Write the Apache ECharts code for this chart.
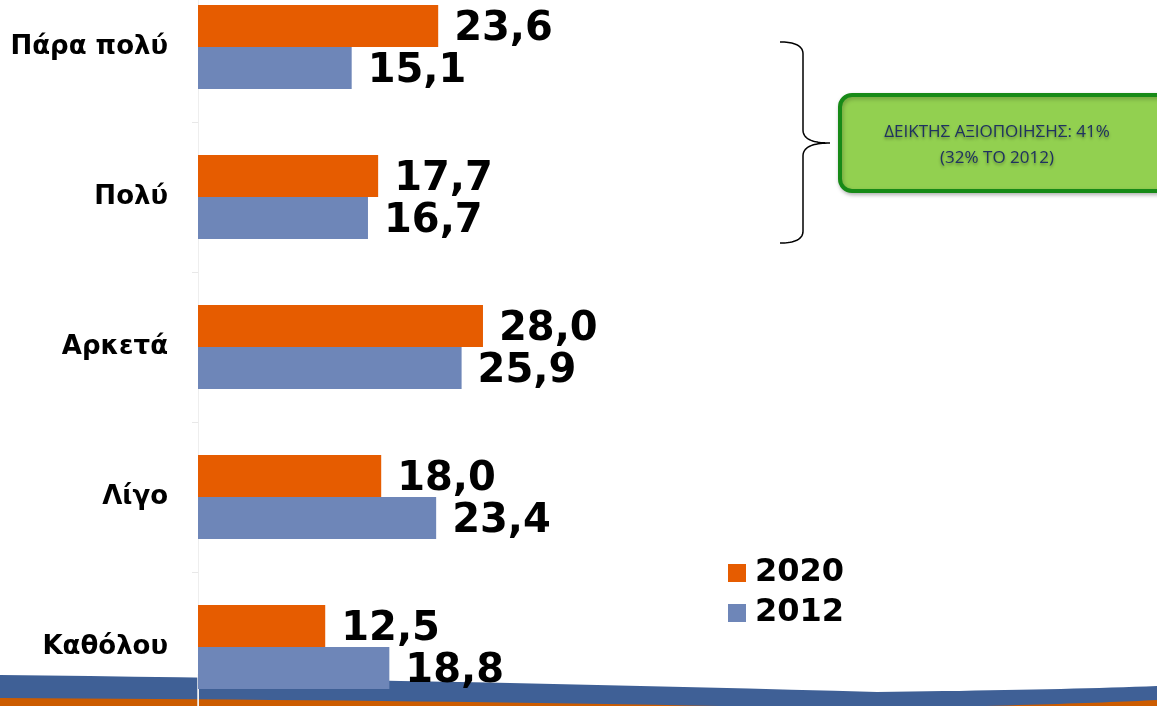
<!DOCTYPE html>
<html>
<head>
<meta charset="utf-8">
<script src="https://cdn.jsdelivr.net/npm/echarts@6/dist/echarts.min.js"></script>
<style>
  html, body { margin: 0; padding: 0; background: #fff; }
  #chart { width: 1157px; height: 706px; }
</style>
</head>
<body>
<div id="chart"></div>
<script>
// data
var categories = ["Πάρα πολύ", "Πολύ", "Αρκετά", "Λίγο", "Καθόλου"];
var values2020 = [23.6, 17.7, 28.0, 18.0, 12.5];
var values2012 = [15.1, 16.7, 25.9, 23.4, 18.8];
var seriesNames = ["2020", "2012"];
var noteLines = ["ΔΕΙΚΤΗΣ ΑΞΙΟΠΟΙΗΣΗΣ: 41%", "(32% ΤΟ 2012)"];

var chart = echarts.init(document.getElementById("chart"));

function fmt(p) {
  return p.value.toFixed(1).replace(".", ",");
}

// sample a quadratic curve for the decorative shapes
function quad(p0, c, p1) {
  var pts = [];
  for (var i = 0; i <= 20; i++) {
    var t = i / 20, u = 1 - t;
    pts.push([u * u * p0[0] + 2 * u * t * c[0] + t * t * p1[0],
              u * u * p0[1] + 2 * u * t * c[1] + t * t * p1[1]]);
  }
  return pts;
}

var blueWave = [].concat(quad([0, 675], [450, 680], [877, 692]),
  quad([877, 692], [1050, 690], [1157, 686]), [[1157, 706], [0, 706]]);
var orangeLeft = quad([0, 698], [400, 700], [720, 706]).concat([[0, 706]]);
var orangeRight = quad([985, 706], [1100, 703], [1157, 700]).concat([[1157, 706]]);
var brace = [].concat(quad([780, 42], [803, 42], [803, 54]),
  [[803, 130]], quad([803, 130], [803, 143], [830, 143]),
  quad([830, 143], [803, 143], [803, 156]), [[803, 231]],
  quad([803, 231], [803, 243], [780, 243]));

var labelStyle = {
  show: true,
  position: "right",
  distance: 16,
  offset: [0, 4],
  formatter: fmt,
  color: "#000",
  fontFamily: "DejaVu Sans",
  fontWeight: "bold",
  fontSize: 40
};

var option = {
  animation: false,
  backgroundColor: "#fff",
  grid: {
    left: 198,
    top: -28,
    width: 916,
    height: 750,
    outerBoundsMode: "none",
    containLabel: false
  },
  legend: {
    data: seriesNames,
    orient: "vertical",
    left: 728,
    top: 553,
    padding: 0,
    itemWidth: 18,
    itemHeight: 18,
    itemGap: 0,
    icon: "rect",
    textStyle: {
      color: "#000",
      fontFamily: "DejaVu Sans",
      fontWeight: "bold",
      fontSize: 32,
      lineHeight: 40,
      padding: [0, 0, 0, 4]
    }
  },
  xAxis: {
    type: "value",
    min: 0,
    max: 90,
    show: false
  },
  yAxis: {
    type: "category",
    data: categories,
    inverse: true,
    axisLine: { show: true, lineStyle: { color: "#eeeeee", width: 1 } },
    axisTick: { show: true, length: 6, lineStyle: { color: "#e8e8e8" } },
    axisLabel: {
      margin: 30,
      color: "#000",
      fontFamily: "DejaVu Sans",
      fontWeight: "bold",
      fontSize: 26
    }
  },
  series: [
    {
      name: "2020",
      type: "bar",
      data: values2020,
      barWidth: 42,
      barGap: "0%",
      itemStyle: { color: "#e65c00" },
      label: labelStyle
    },
    {
      name: "2012",
      type: "bar",
      data: values2012,
      barWidth: 42,
      barGap: "0%",
      itemStyle: { color: "#6e86b8" },
      label: labelStyle
    }
  ],
  graphic: [
    // wave at the bottom
    { type: "polygon", z: 0, shape: { points: blueWave }, style: { fill: "#3f6096" } },
    { type: "polygon", z: 0, shape: { points: orangeLeft }, style: { fill: "#cc5c00" } },
    { type: "polygon", z: 0, shape: { points: orangeRight }, style: { fill: "#cc5c00" } },
    {
      type: "line",
      z: 1,
      shape: { x1: 198, y1: 674, x2: 198, y2: 706 },
      style: { stroke: "#f4f4f4", lineWidth: 1.5 }
    },
    // curly brace
    {
      type: "polyline",
      z: 5,
      shape: { points: brace },
      style: { fill: null, stroke: "#000", lineWidth: 1.5 }
    },
    // green note box
    {
      type: "rect",
      z: 5,
      shape: { x: 840, y: 95, width: 330, height: 96, r: 12 },
      style: {
        fill: "#92d050",
        stroke: "#178a17",
        lineWidth: 4,
        shadowBlur: 4,
        shadowColor: "rgba(0,0,0,0.25)",
        shadowOffsetX: 1,
        shadowOffsetY: 2
      }
    },
    {
      type: "text",
      z: 6,
      style: {
        x: 997,
        y: 145,
        text: noteLines.join("\n"),
        align: "center",
        verticalAlign: "middle",
        fill: "#1f3260",
        font: "17px 'Open Sans'",
        lineHeight: 26,
        textShadowColor: "rgba(0,0,0,0.35)",
        textShadowBlur: 3,
        textShadowOffsetY: 2
      }
    }
  ]
};

chart.setOption(option);
</script>
</body>
</html>
